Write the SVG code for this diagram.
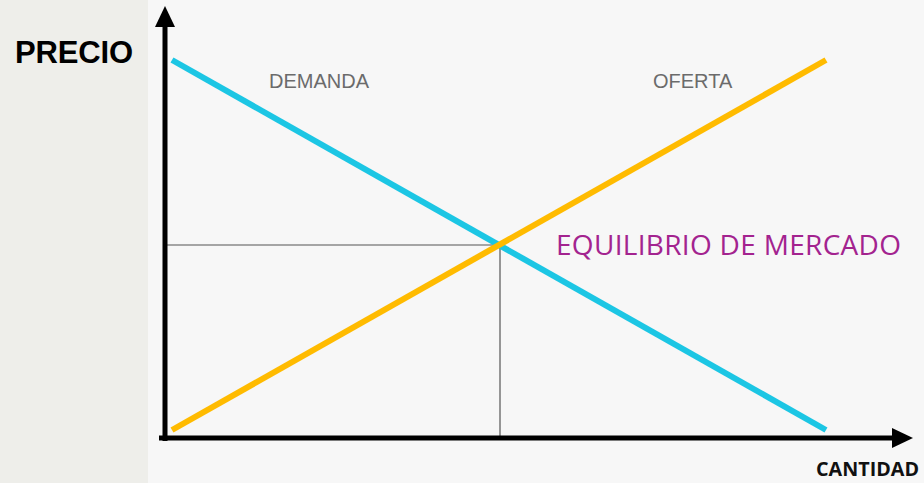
<svg xmlns="http://www.w3.org/2000/svg" width="924" height="483" viewBox="0 0 924 483">
<style>
.axis{stroke:#000;stroke-width:5;fill:none}
.guide{stroke:#555;stroke-width:1.2;fill:none}
.curve{stroke-width:6;stroke-linecap:butt;fill:none}
.lbl{font-family:"Liberation Sans",Arial,sans-serif;fill:#6b6b6b;font-size:20px}
</style>
<rect x="0" y="0" width="924" height="483" fill="#f7f7f7"/>
<rect x="0" y="0" width="148" height="483" fill="#eeeeea"/>
<g id="guides">
<line class="guide" x1="165" y1="245" x2="500" y2="245"/>
<line class="guide" x1="500" y1="245" x2="500" y2="437"/>
</g>
<g id="demanda">
<line class="curve" stroke="#1cc6e4" x1="172" y1="60" x2="826" y2="430"/>
<text class="lbl" x="269" y="87.5">DEMANDA</text>
</g>
<g id="oferta">
<line class="curve" stroke="#ffbb00" x1="172" y1="430" x2="826" y2="60"/>
<text class="lbl" x="653" y="88">OFERTA</text>
</g>
<g id="axes">
<line class="axis" x1="165" y1="441" x2="165" y2="24"/>
<polygon points="165,6 175,27 155,27" fill="#000"/>
<line class="axis" x1="159" y1="438" x2="895" y2="438"/>
<polygon points="913,438 892,428 892,448" fill="#000"/>
</g>
<g id="precio">
<text x="15" y="63" font-family="'Liberation Sans',Arial,sans-serif" font-weight="bold" font-size="31" textLength="118" fill="#000">PRECIO</text>
</g>
<g id="cantidad">
<text x="816" y="476" font-family="'Open Sans',sans-serif" font-weight="bold" font-size="19" textLength="103" lengthAdjust="spacingAndGlyphs" fill="#111">CANTIDAD</text>
</g>
<g id="equilibrio">
<text x="556" y="255" font-family="'Open Sans',sans-serif" font-size="28" textLength="345" fill="#a3238f">EQUILIBRIO DE MERCADO</text>
</g>
</svg>
